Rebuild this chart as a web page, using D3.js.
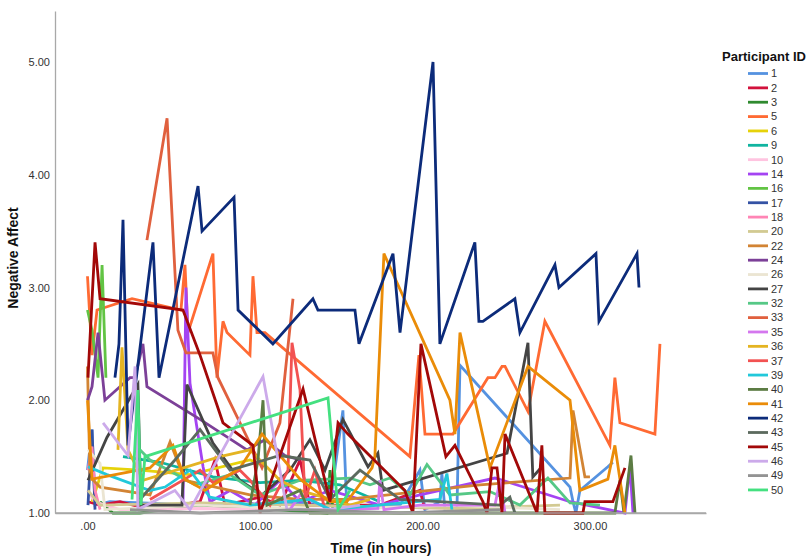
<!DOCTYPE html>
<html><head><meta charset="utf-8">
<script src="https://cdn.jsdelivr.net/npm/d3@7"></script>
<style>body{margin:0;background:#fff;} svg{display:block;font-family:"Liberation Sans",Arial,sans-serif;}</style>
</head><body>
<svg id="c" width="809" height="557"></svg>
<script>
const participants = ["1","2","3","5","6","9","10","14","16","17","18","20","22","24","26","27","32","33","35","36","37","39","40","41","42","43","45","46","49","50"];
const seriesColors = ["#5592e0","#d2123c","#2f8a2f","#ff6a33","#e6d20a","#10b4a0","#ffc4e0","#a444f2","#62c444","#3452a4","#ff85b5","#d2ca92","#d28434","#7c4098","#ebe5d2","#444444","#56c886","#e0603e","#d477ee","#e4b422","#f25252","#22c8da","#5c7c44","#ea8c08","#0c2b7a","#5c6a5e","#a20808","#ccaaea","#939393","#44e080"];
const hours = [
 [0,2.7,4.5,13.4,67.2,126.9,144.8,152.5,154.9,186.6,198.5,201.5,210.4,211.6,213.4,220.6,222.4,288.1,289.9,291.6,294.0,310.7,313.7],
 [0.3,7.5,19.4,37.3,67.2,76.1,82.1,103.0,114.9,126.9,132.8,174.6,198.5,201.5],
 [7.5,15.2,31.3,67.2,143.0,144.8,146.6],
 [0,2.7,5.7,26.6,55.8,58.2,60.0,74.9,77.3,80.9,83.3,97.0,98.8,101.2,106.0,192.5,197.9,201.5,218.2,239.1,243.3,247.5,249.3,263.0,273.1,311.9,314.9,317.9,338.8,341.8],
 [2.7,9.3,31.3,61.2,97.0,104.2],
 [21.2,43.3,74.9,103.0,126.9,150.7,174.6],
 [0,4.5,19.4,67.2,126.9,186.6,246.3],
 [57.0,58.8,61.2,69.0,73.1,85.1,100.0,114.9,126.9,144.8,174.6,198.5,243.3,288.1,320.9,323.9,325.7],
 [0,2.7,6.3,8.7,11.0],
 [0.3,2.7,4.5],
 [0.3,2.7,4.5,7.5],
 [0.3,7.5,67.2,126.9,222.4,282.1],
 [0,1.5,7.5,37.3,49.3,58.2,97.0,126.9,154.9,234.3,288.1,289.9,297.0,300.0],
 [0,2.7,6.3,10.4,25.4,28.4,33.1,35.5,67.2,95.2,106.0,117.9,126.9],
 [0.3,7.5,10.4,67.2,144.8,216.4,282.1],
 [0.3,11.6,30.1,31.9,56.4,59.4,74.9,91.0,104.2,120.9,132.8,141.8,152.5,167.5,173.4,176.4,250.5,263.0,265.9,271.3],
 [31.3,37.3,64.2,85.1,103.0,126.9,156.7,168.7,180.6,192.5,202.7,216.4,240.3,258.2,274.9,288.1,306.0],
 [35.5,47.5,54.0,58.8,74.9,77.9,104.2,114.9,122.7],
 [120.9,126.9,144.8,173.4,174.6,177.0,198.5,243.3,246.3,249.3],
 [18.2,20.6,24.2,33.1,79.1,97.0,114.9,126.9,156.7,168.7],
 [37.3,67.2,74.9,91.0,97.0,109.0,119.7,122.1,126.9,129.9,135.8,141.8],
 [0.3,11.6,37.3,46.3,61.2,73.1,97.0,132.8,144.8,210.4,214.6,217.6],
 [97.0,101.8,104.8,107.2,126.9,132.8,204.5,314.9,317.9,320.3,324.5,326.9],
 [0,2.7,37.3,51.0,58.2,70.1,91.0,104.2,126.9,144.8,154.9,169.9,171.6,177.0,216.4,219.4,222.4,240.3,263.0,288.1,294.0,310.7,314.9,320.9],
 [16.4,18.8,21.2,24.2,39.1,42.7,66.0,68.4,87.5,89.9,110.7,134.6,137.6,159.7,162.1,182.4,186.6,206.3,210.4,231.3,233.7,236.1,255.2,258.2,279.1,281.5,303.6,305.4,328.1,329.3],
 [31.3,52.2,67.2,85.1,114.9,132.8,144.8,162.7,186.6,246.3,252.2,255.2],
 [0.3,4.5,7.5,57.0,67.2,80.9,98.8,103.0,128.7,144.8,149.6,155.5,189.5,194.3,199.1,214.0,219.4,236.1,238.5,241.5,244.5,247.5,249.3,268.4,271.3,273.1,295.8,297.0,313.7,320.9],
 [9.3,24.2,28.4,30.1,52.2,61.2,104.8,119.1,144.8,162.7],
 [25.4,67.2,126.9,186.6,246.3],
 [26.6,30.1,31.9,34.3,143.6,149.6,156.7]
];
const affect = [
 [1.38,1.74,1.07,1.1,1.07,1.09,1.07,1.91,1.03,1.07,1.38,1.03,1.1,1.35,1.03,1.03,2.31,1.23,1.1,1.0,1.2,1.41,1.45],
 [1.1,1.07,1.1,1.03,1.1,1.47,1.07,1.14,1.07,1.47,1.07,1.07,1.2,1.03],
 [1.1,1.0,1.0,1.07,1.0,1.38,1.0],
 [3.1,2.4,2.8,2.9,2.8,3.2,2.6,3.3,2.2,2.7,2.6,2.4,3.1,2.6,2.6,1.5,2.4,1.7,1.7,2.2,2.2,2.3,2.3,1.9,2.7,1.6,2.2,1.8,1.7,2.5],
 [1.1,1.4,1.38,1.34,1.47,1.43],
 [1.5,1.45,1.32,1.27,1.29,1.25,1.1],
 [1.2,1.1,1.03,1.04,1.03,1.05,1.03],
 [1.07,3.0,2.15,1.41,1.1,1.2,1.07,1.29,1.1,1.2,1.07,1.16,1.31,1.1,1.0,1.41,1.0],
 [2.8,2.62,2.2,3.2,2.2],
 [1.07,1.74,1.03],
 [1.38,1.59,1.2,1.03],
 [1.2,1.07,1.09,1.07,1.04,1.07],
 [2.3,1.32,1.23,1.16,1.63,1.29,1.16,1.12,1.12,1.25,1.31,1.91,1.32,1.32],
 [2.0,2.12,2.6,2.0,2.2,2.2,2.5,2.12,1.83,1.56,1.65,1.51,1.47],
 [1.56,1.44,1.03,1.07,1.03,1.07,1.03],
 [1.29,1.67,2.14,1.07,1.07,2.14,1.62,1.29,1.16,1.38,1.65,1.38,1.83,1.41,1.53,1.2,1.53,2.51,1.32,1.41],
 [1.56,1.47,1.25,1.34,1.16,1.29,1.31,1.25,1.31,1.16,1.43,1.16,1.19,1.07,1.31,1.09,1.07],
 [3.42,4.5,2.62,2.42,2.42,2.2,1.4,1.8,2.9],
 [1.03,1.16,1.03,1.04,1.29,1.03,1.07,1.07,1.29,1.0],
 [1.56,2.47,1.56,1.29,1.5,1.56,1.29,1.2,1.07,1.12],
 [1.12,1.38,1.27,1.38,1.29,1.07,1.38,2.51,2.09,1.12,1.38,1.03],
 [1.41,1.34,1.2,1.23,1.38,1.14,1.07,1.12,1.03,1.12,1.35,1.03],
 [1.07,1.47,2.0,1.07,1.2,1.0,1.0,1.0,1.29,1.0,1.51,1.0],
 [2.0,1.3,1.4,1.6,1.3,1.2,1.4,1.7,1.3,1.1,1.1,1.4,1.5,3.3,2.0,1.7,2.6,1.4,2.3,2.0,1.2,1.3,1.6,1.0],
 [2.2,2.5,3.6,1.6,3.4,2.2,3.9,3.5,3.8,2.8,2.5,2.9,2.8,2.8,2.5,3.3,2.6,5.0,2.5,3.4,2.7,2.7,2.9,2.6,3.2,3.0,3.3,2.7,3.3,3.0],
 [1.12,1.47,1.74,1.38,1.51,1.47,1.12,1.38,1.12,1.07,1.14,1.0],
 [2.2,3.4,2.9,2.8,2.4,1.8,1.6,1.0,2.1,1.1,1.8,1.7,1.2,1.0,2.5,1.5,1.6,1.1,1.0,1.4,1.4,1.0,1.7,1.0,1.6,1.0,1.0,1.1,1.1,1.4],
 [1.8,1.51,2.3,1.03,1.2,1.03,2.21,1.03,1.03,1.07],
 [1.03,1.0,1.03,1.0,1.03],
 [1.12,2.09,1.07,1.5,2.02,1.03,1.2]
];
const yTicks = [1,2,3,4,5];
const yTickLabels = ["1.00","2.00","3.00","4.00","5.00"];
const xTicks = [0,100,200,300];
const xTickLabels = [".00","100.00","200.00","300.00"];

const svg = d3.select("#c");
const x = d3.scaleLinear().domain([-19.4, 369.3]).range([55, 706]);
const y = d3.scaleLinear().domain([1, 5.452]).range([513, 11]);

// axes
const xAxis = d3.axisBottom(x).tickValues(xTicks).tickSize(0).tickPadding(9)
  .tickFormat((d,i)=>xTickLabels[i]);
const gx = svg.append("g").attr("transform","translate(0,513)").call(xAxis);
gx.select(".domain").attr("stroke","#a8a8a8").attr("stroke-width",1.3);
gx.selectAll("text").attr("fill","#333").style("font-size","11px").style("font-family","Liberation Sans, Arial, sans-serif");

const yAxis = d3.axisLeft(y).tickValues(yTicks).tickSize(0).tickPadding(5)
  .tickFormat((d,i)=>yTickLabels[i]);
const gy = svg.append("g").attr("transform","translate(55,0)").call(yAxis);
gy.select(".domain").attr("stroke","#a8a8a8").attr("stroke-width",1.3);
gy.selectAll("text").attr("fill","#333").style("font-size","11px").style("font-family","Liberation Sans, Arial, sans-serif");

// lines
const line = d3.line().x(d=>x(d[0])).y(d=>y(d[1]));
participants.forEach((p,i)=>{
  const pts = hours[i].map((h,j)=>[h, affect[i][j]]);
  svg.append("path").datum(pts)
    .attr("d", line).attr("fill","none")
    .attr("stroke", seriesColors[i]).attr("stroke-width", 2.8)
    .attr("stroke-linejoin","miter").attr("stroke-linecap","butt");
});
svg.append("line").attr("x1",55).attr("x2",706).attr("y1",513).attr("y2",513).attr("stroke","#a8a8a8").attr("stroke-width",1.3);

// axis titles
svg.append("text").attr("x",381).attr("y",553).attr("text-anchor","middle")
  .style("font-size","14px").style("font-weight","bold").attr("fill","#111").text("Time (in hours)");
svg.append("text").attr("transform","translate(18,258) rotate(-90)").attr("text-anchor","middle")
  .style("font-size","14px").style("font-weight","bold").attr("fill","#111").text("Negative Affect");

// legend
const lg = svg.append("g");
lg.append("text").attr("x",722).attr("y",61).style("font-size","13px").style("font-weight","bold")
  .attr("textLength",84).attr("lengthAdjust","spacingAndGlyphs").attr("fill","#111").text("Participant ID");
participants.forEach((p,i)=>{
  const yy = 73.5 + i*14.36;
  lg.append("line").attr("x1",748).attr("x2",768).attr("y1",yy).attr("y2",yy)
    .attr("stroke",seriesColors[i]).attr("stroke-width",2.8);
  lg.append("text").attr("x",771).attr("y",yy).attr("dy","0.35em")
    .style("font-size","11px").attr("fill","#333").text(p);
});
</script>
</body></html>
